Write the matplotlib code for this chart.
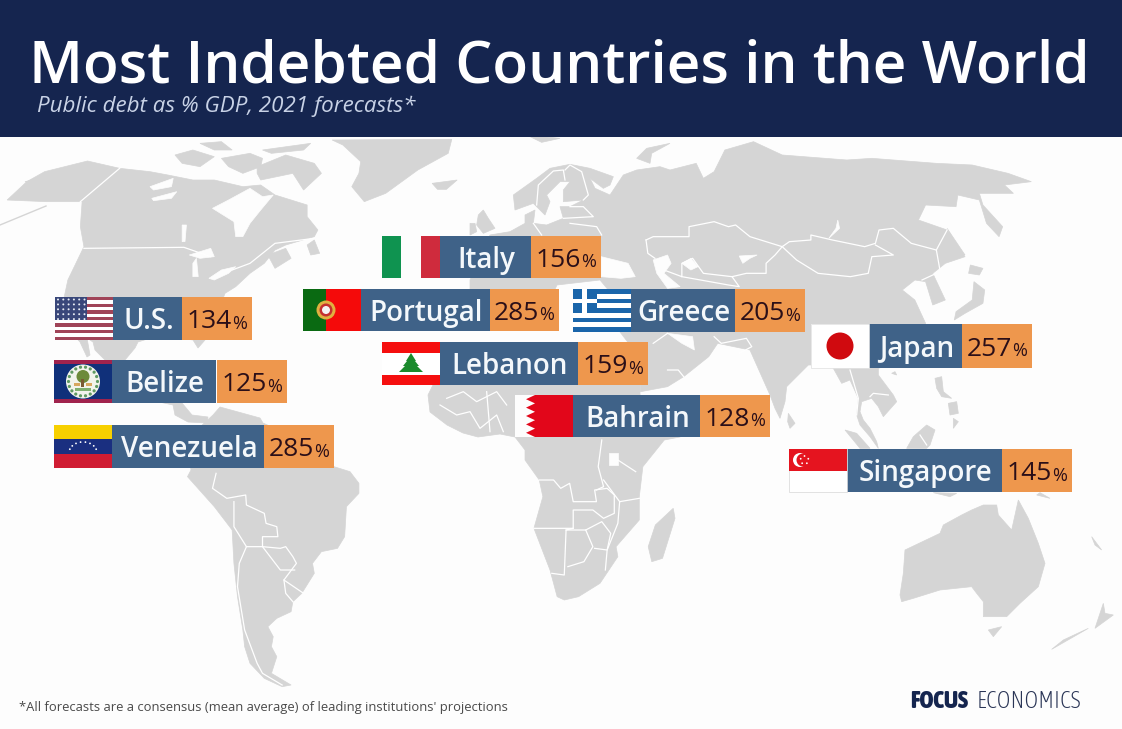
import numpy as np
import matplotlib
matplotlib.use('Agg')
import matplotlib.pyplot as plt
from matplotlib.patches import Rectangle, Circle, Polygon

countries = ['U.S.', 'Belize', 'Venezuela', 'Italy', 'Portugal', 'Greece', 'Lebanon', 'Bahrain', 'Japan', 'Singapore']
debt = [134, 125, 285, 156, 285, 205, 159, 128, 257, 145]

# flag left, flag right, name right, value left, value right, top, bottom (pixels)
boxes = [(55, 113, 182, 182, 252, 297, 340),
         (54, 112, 216, 217, 287, 360, 403),
         (54, 112, 264, 264, 334, 425, 468),
         (382, 440, 531, 531, 601, 236, 278),
         (303, 361, 490, 490, 559, 289, 331),
         (573, 631, 735, 735, 805, 289, 332),
         (382, 440, 578, 578, 648, 342, 385),
         (515, 573, 700, 700, 770, 395, 437),
         (811, 869, 962, 962, 1032, 324, 368),
         (789, 847, 1002, 1002, 1072, 449, 492)]

NAVY = '#15254f'
BLUE = '#3f6288'
ORANGE = '#ee974d'
LAND = '#d5d5d5'
BG = '#fdfdfd'


def z2(pts):
    return [(290 + x / 3, 225 + y / 3) for x, y in pts]


def z3(pts):
    return [(x / 2.8, 130 + y / 3) for x, y in pts]


def z4(pts):
    return [(560 + x / 2.79, 130 + y / 3) for x, y in pts]


def z5(pts):
    return [(150 + x / 2.8, 430 + y / 3) for x, y in pts]


def z6(pts):
    return [(780 + x / 3, 430 + y / 3) for x, y in pts]


def z7(pts):
    return [(470 + x / 3, 135 + y / 3) for x, y in pts]


def z8(pts):
    return [(760 + x / 3, 365 + y / 3) for x, y in pts]


land = [
    # north america
    [(0, 225), (46, 206)],
    z3([(20, 210), (75, 155), (125, 125), (245, 93), (335, 115), (420, 125), (470, 135), (540, 150), (600, 150),
        (680, 170), (730, 165), (770, 195), (860, 225), (860, 260), (890, 300), (880, 320), (800, 345), (770, 360),
        (740, 400), (700, 430), (660, 470), (630, 490)])
    + [(215, 320), (205, 340), (198, 348), (193, 340), (160, 335), (138, 342), (135, 348), (125, 360), (128, 385),
       (150, 395), (182, 403), (192, 415), (208, 417), (207, 423), (188, 422), (175, 415), (173, 405), (150, 400),
       (125, 380), (105, 360), (95, 350), (93, 342), (87, 338), (90, 355), (87, 357), (80, 342), (64, 325)]
    + z3([(180, 500), (190, 450), (235, 350), (225, 290), (230, 215), (130, 215)]),
    z3([(560, 40), (620, 35), (650, 60), (600, 60)]),
    z3([(490, 75), (540, 60), (600, 80), (560, 110), (510, 100)]),
    z3([(620, 85), (700, 70), (735, 85), (730, 110), (680, 130), (640, 110)]),
    z3([(735, 60), (870, 40), (850, 60), (760, 70)]),
    z3([(720, 110), (800, 75), (880, 100), (900, 130), (850, 180), (820, 130), (730, 150), (720, 130)]),
    z3([(70, 155), (110, 145), (100, 165)]),
    z3([(860, 345), (880, 330), (895, 370), (870, 375)]),
    z3([(750, 375), (800, 355), (815, 385), (770, 415)]),
    z3([(930, 30), (1265, 28), (1255, 70), (1170, 120), (1080, 190), (1020, 215), (985, 170), (1005, 130), (1010, 95),
        (960, 45)]),
    z3([(1210, 160), (1280, 150), (1250, 178), (1225, 178)]),
    # south america
    [(191, 470), (186, 440), (213, 415), (220, 407), (260, 418), (263, 423), (300, 440)]
    + z5([(515, 110), (560, 125), (585, 160), (585, 190), (550, 230), (545, 320), (525, 355), (480, 365), (455, 400),
          (460, 430), (425, 490), (400, 515), (395, 545), (355, 565), (330, 590), (345, 620), (340, 650), (355, 680),
          (340, 730), (395, 765), (370, 770), (320, 745), (280, 700), (265, 650), (260, 600), (245, 500), (235, 400),
          (230, 300), (180, 230), (105, 140)]),
    # eurasia
    [(470, 280)]
    + z7([(60, 300), (120, 290), (165, 265), (165, 240), (195, 225), (190, 265), (230, 270), (280, 250), (270, 215),
          (300, 215), (340, 195), (280, 200), (280, 165), (300, 140), (270, 140), (230, 180), (240, 200), (225, 240),
          (190, 205), (135, 225), (130, 180), (200, 130), (240, 100), (300, 88), (360, 100), (430, 125), (420, 150),
          (400, 160), (360, 130), (375, 160), (420, 180), (440, 150), (460, 120), (500, 105), (570, 95), (600, 105)])
    + z4([(380, 100), (400, 145), (430, 125), (460, 60), (540, 35), (620, 75), (800, 90), (870, 85), (1050, 100),
          (1150, 105), (1250, 130), (1315, 155), (1240, 165), (1265, 190), (1170, 190), (1180, 225), (1235, 290),
          (1225, 320), (1190, 280), (1170, 210), (1110, 195), (1105, 230), (1020, 225), (1000, 270), (1080, 300),
          (1130, 380), (1075, 400), (1040, 430), (1075, 510), (1040, 525), (1020, 455), (990, 450), (955, 480),
          (990, 510), (1020, 580), (990, 680)])
    + z8([(355, 10), (355, 30), (400, 90), (410, 110), (370, 155), (355, 125), (335, 100), (305, 110), (300, 140),
          (310, 165), (330, 190), (350, 230), (355, 250), (330, 215), (300, 180), (290, 150), (295, 100), (270, 45),
          (245, 55), (220, 10), (215, 0), (145, 0), (80, 65), (75, 110), (60, 160), (45, 130), (30, 90)])
    + z4([(530, 660), (440, 640), (415, 680), (345, 740), (300, 770), (225, 785)])
    + [(640, 375), (630, 345), (620, 332), (610, 292), (600, 280), (557, 285), (550, 300), (470, 300)],
    z7([(25, 240), (40, 225), (55, 250), (75, 280), (40, 295), (20, 270)]),
    z7([(0, 265), (15, 265), (20, 290), (0, 300)]),
    z7([(500, 70), (530, 40), (600, 25), (545, 55), (540, 85)]),
    z7([(170, 0), (270, 10), (215, 22)]),
    z4([(1080, 295), (1130, 375), (1115, 370)]),
    z4([(1145, 405), (1180, 415), (1170, 435), (1140, 430)]),
    z4([(1155, 455), (1185, 480), (1180, 520), (1130, 550), (1100, 570), (1105, 545), (1150, 510)]),
    z8([(85, 145), (105, 175), (90, 190), (83, 170)]),
    z8([(255, 195), (290, 205), (330, 250), (300, 250)]),
    z8([(440, 250), (460, 215), (500, 180), (525, 195), (510, 240), (500, 250)]),
    z8([(525, 40), (545, 35), (550, 80), (575, 100), (545, 95), (530, 70)]),
    z8([(565, 115), (590, 110), (595, 145), (570, 150)]),
    z8([(395, 25), (405, 20), (410, 30)]),
    z8([(580, 160), (595, 170), (580, 190)]),
    z6([(460, 188), (530, 190), (510, 200)]),
    z6([(780, 188), (810, 205), (770, 195)]),
    # africa
    [(428, 395), (433, 385), (445, 365), (500, 350), (590, 350), (640, 380), (640, 395), (680, 410), (705, 405),
     (680, 437)]
    + z5([(1440, 30), (1380, 110), (1370, 200), (1370, 270), (1305, 350), (1310, 380), (1285, 420), (1260, 460),
          (1200, 500), (1160, 510), (1140, 500), (1120, 420), (1075, 295), (1100, 200), (1090, 150), (1050, 90),
          (1050, 60)])
    + [(515, 437), (500, 434), (478, 437), (463, 433), (447, 425), (430, 412)],
    z5([(1465, 235), (1470, 265), (1435, 385), (1405, 395), (1395, 350), (1415, 285)]),
    # australia and the islands
    z6([(375, 360), (480, 310), (490, 285), (545, 255), (575, 240), (610, 225), (650, 225), (655, 255), (695, 300),
        (715, 210), (745, 265), (775, 340), (795, 400), (775, 470), (720, 520), (680, 560), (610, 560), (610, 515),
        (590, 490), (575, 470), (480, 480), (400, 505), (365, 515), (360, 495), (370, 430)]),
    z6([(625, 600), (665, 590), (640, 620)]),
    z6([(970, 520), (975, 550), (1000, 555), (945, 595)]),
    z6([(925, 595), (815, 658), (850, 630)]),
    z6([(935, 320), (965, 360), (945, 345)]),
]

# seas and lakes
water = [
    z3([(595, 235), (640, 210), (700, 175), (735, 200), (765, 195), (730, 240), (700, 280), (680, 320), (660, 320),
        (655, 275)]),
    z3([(420, 170), (485, 145), (480, 170), (430, 180)]),
    z3([(425, 205), (495, 185), (480, 205), (430, 212)]),
    z3([(510, 285), (522, 285), (518, 335), (510, 335)]),
    z3([(530, 375), (590, 355), (600, 380), (560, 385)]),
    z3([(540, 400), (550, 385), (555, 440), (540, 440)]),
    z3([(585, 445), (620, 420), (660, 410), (640, 430), (600, 450)]),
    z4([(115, 380), (190, 400), (210, 440), (170, 445), (115, 440)]),
    z4([(260, 390), (300, 375), (310, 400), (290, 430), (335, 470), (300, 475), (270, 430)]),
    z4([(500, 378), (550, 375), (530, 385), (510, 400)]),
    z4([(775, 270), (780, 295), (750, 325), (770, 295)]),
    z4([(340, 400), (365, 385), (385, 410), (365, 420)]),
    z4([(300, 610), (370, 620), (375, 660), (340, 640)]),
    z4([(140, 610), (170, 620), (215, 700), (200, 710)]),
    z5([(1285, 70), (1310, 70), (1310, 105), (1285, 105)]),
]

# white borders between countries
borders = [
    z3([(335, 115), (225, 215)]),
    z3([(235, 355), (515, 352), (590, 380)]),
    z3([(880, 325), (770, 340), (700, 400), (650, 420)]),
    z5([(185, 130), (175, 175), (215, 205), (268, 195), (270, 225), (320, 250), (325, 280), (355, 290), (358, 320),
        (315, 320), (315, 350), (365, 355), (380, 350), (400, 380), (410, 400), (375, 450), (430, 490)]),
    z5([(235, 215), (235, 290), (270, 350), (250, 400), (245, 470), (265, 600), (300, 700), (315, 730), (370, 765)]),
    z5([(270, 350), (315, 350), (365, 420), (405, 420)]),
    z5([(375, 450), (380, 490), (400, 515)]),
    z7([(200, 210), (205, 150), (250, 108), (280, 105), (285, 135)]),
    z7([(285, 105), (300, 90), (335, 110), (355, 180), (340, 195)]),
    z7([(300, 215), (340, 215), (370, 245), (280, 250)]),
    z7([(300, 265), (380, 275), (395, 300)]),
    z7([(190, 265), (215, 300)]),
    z4([(240, 330), (260, 320), (360, 320), (360, 290), (430, 275), (470, 290), (490, 285), (530, 320), (620, 350),
        (640, 335), (700, 330), (700, 315), (760, 330), (850, 350), (880, 340), (890, 300), (930, 295), (980, 340),
        (1050, 360), (1060, 420)]),
    z4([(1050, 360), (1080, 300)]),
    z4([(620, 350), (660, 390), (720, 430), (810, 440), (860, 430), (870, 380), (930, 375), (880, 345)]),
    z4([(620, 350), (600, 375), (575, 400), (575, 430), (520, 430), (480, 440), (400, 430), (370, 385), (340, 400),
        (340, 440), (290, 420)]),
    z4([(240, 330), (245, 370), (265, 385)]),
    z4([(480, 440), (500, 470), (470, 465), (340, 440)]),
    z4([(1010, 450), (1050, 430)]),
    z4([(430, 620), (450, 640), (520, 625), (535, 650), (500, 670)]),
    z4([(300, 610), (260, 640)]),
    z4([(345, 740), (330, 720), (300, 720)]),
    z8([(270, 15), (295, 100), (290, 150)]),
    z8([(330, 95), (340, 85), (385, 90)]),
    z8([(480, 210), (500, 240)]),
    z5([(1090, 150), (1130, 150), (1150, 175), (1175, 160), (1185, 215), (1250, 215), (1245, 180), (1280, 175),
        (1300, 195), (1300, 250), (1270, 265), (1240, 240), (1185, 240), (1185, 295), (1075, 295)]),
    z5([(1185, 295), (1165, 300), (1160, 435), (1125, 430)]),
    z5([(1165, 300), (1220, 300), (1240, 350), (1215, 395), (1170, 410)]),
    z5([(1220, 300), (1265, 275), (1290, 310), (1280, 360), (1245, 355)]),
    z5([(1270, 150), (1315, 215), (1370, 205)]),
    z5([(1310, 90), (1360, 125)]),
    z5([(1265, 30), (1255, 110), (1270, 170), (1250, 180)]),
    z5([(1315, 215), (1310, 280), (1280, 360), (1275, 420)]),
    z2([(470, 520), (520, 500), (560, 530), (620, 500), (650, 540)]),
    z2([(450, 540), (500, 570), (540, 560), (570, 610), (620, 570), (640, 620)]),
    z2([(590, 500), (600, 620)]),
]

fig = plt.figure(figsize=(11.22, 7.29), dpi=100, facecolor=BG)
ax = fig.add_axes([0, 0, 1, 1])
ax.set_xlim(0, 1122)
ax.set_ylim(729, 0)
ax.axis('off')

for pts in land:
    if len(pts) == 2:
        ax.plot(*zip(*pts), color=LAND, lw=1, zorder=1)
    else:
        ax.add_patch(Polygon(pts, closed=True, fc=LAND, ec=LAND, lw=0.5, zorder=1))
for pts in water:
    ax.add_patch(Polygon(pts, closed=True, fc=BG, ec=BG, lw=0.5, zorder=2))
for pts in borders:
    ax.plot(*zip(*pts), color='white', lw=0.9, zorder=2)


def rect(x0, y0, x1, y1, color, z=5):
    ax.add_patch(Rectangle((x0, y0), x1 - x0, y1 - y0, fc=color, ec='none', zorder=z))


def disc(x, y, r, color, z=6):
    ax.add_patch(Circle((x, y), r, fc=color, ec='none', zorder=z))


def flag_us(x0, x1, y0, y1):
    n = 13
    h = (y1 - y0) / n
    for i in range(n):
        rect(x0, y0 + i * h, x1, y0 + (i + 1) * h, '#a04458' if i % 2 == 0 else 'white')
    rect(x0, y0, x0 + 32, y0 + 7 * h, '#39477a')
    for j in range(5):
        for i in range(6):
            disc(x0 + 3 + i * 5.3, y0 + 2.5 + j * 4.9, 1.0, '#e8ecf4')


def flag_belize(x0, x1, y0, y1):
    rect(x0, y0, x1, y1, '#a0234d')
    rect(x0, y0 + 4, x1, y1 - 4, '#10307a')
    cx, cy = (x0 + x1) / 2, (y0 + y1) / 2
    disc(cx, cy, 17, '#f2f4ec')
    for a in np.arange(0, 360, 20):
        disc(cx + 14.5 * np.cos(np.radians(a)), cy + 14.5 * np.sin(np.radians(a)), 1.6, '#5f9a62', 7)
    disc(cx, cy - 5, 6.5, '#6d8a3a', 8)
    rect(cx - 1.5, cy - 3, cx + 1.5, cy + 5, '#7a5a32', 8)
    rect(cx - 9, cy + 1, cx - 3, cy + 4, '#d8a860', 8)
    rect(cx + 3, cy + 1, cx + 9, cy + 4, '#d8a860', 8)
    rect(cx - 8, cy + 6, cx + 8, cy + 9, '#7fb070', 8)


def flag_venezuela(x0, x1, y0, y1):
    h = (y1 - y0) / 3
    rect(x0, y0, x1, y0 + h, '#f7d000')
    rect(x0, y0 + h, x1, y0 + 2 * h, '#1a2f80')
    rect(x0, y0 + 2 * h, x1, y1, '#d01c33')
    cx, cy = (x0 + x1) / 2, y0 + 1.95 * h
    for a in np.linspace(200, 340, 8):
        disc(cx + 14 * np.cos(np.radians(a)), cy + 11 * np.sin(np.radians(a)), 0.9, 'white')


def flag_italy(x0, x1, y0, y1):
    w = (x1 - x0) / 3
    rect(x0, y0, x0 + w, y1, '#0f9350')
    rect(x0 + w, y0, x0 + 2 * w, y1, BG)
    rect(x0 + 2 * w, y0, x1, y1, '#cf2b3d')


def flag_portugal(x0, x1, y0, y1):
    rect(x0, y0, x0 + 23, y1, '#0a6a12')
    rect(x0 + 23, y0, x1, y1, '#f50a0a')
    cx, cy = x0 + 23, (y0 + y1) / 2
    disc(cx, cy, 9.5, '#e0b040')
    disc(cx, cy, 6.5, '#c43030', 7)
    disc(cx, cy, 4, '#f4f4f4', 8)


def flag_greece(x0, x1, y0, y1):
    n = 9
    h = (y1 - y0) / n
    for i in range(n):
        rect(x0, y0 + i * h, x1, y0 + (i + 1) * h, '#1a65aa' if i % 2 == 0 else 'white')
    rect(x0, y0, x0 + 24, y0 + 5 * h, '#1a65aa')
    rect(x0 + 9.5, y0, x0 + 14.5, y0 + 5 * h, 'white')
    rect(x0, y0 + 2 * h, x0 + 24, y0 + 3 * h, 'white')


def flag_lebanon(x0, x1, y0, y1):
    rect(x0, y0, x1, y1, 'white')
    rect(x0, y0, x1, y0 + 10.5, '#f50f0f')
    rect(x0, y1 - 10.5, x1, y1, '#f50f0f')
    cx = (x0 + x1) / 2
    for top, half, base in [(y0 + 11, 5, y0 + 19), (y0 + 14, 8, y0 + 24), (y0 + 18, 12, y0 + 30)]:
        ax.add_patch(Polygon([(cx, top), (cx - half, base), (cx + half, base)], fc='#1a8a2c', ec='none', zorder=6))


def flag_bahrain(x0, x1, y0, y1):
    rect(x0, y0, x1, y1, BG)
    n = 5
    h = (y1 - y0) / n
    pts = [(x1, y0)]
    for i in range(n):
        pts += [(x0 + 20, y0 + i * h), (x0 + 11, y0 + (i + 0.5) * h)]
    pts += [(x0 + 20, y1), (x1, y1)]
    ax.add_patch(Polygon(pts, fc='#e2061a', ec='none', zorder=6))


def flag_japan(x0, x1, y0, y1):
    rect(x0, y0, x1, y1, 'white')
    ax.add_patch(Rectangle((x0, y0), x1 - x0, y1 - y0, fc='none', ec='#e4e4e4', lw=0.6, zorder=6))
    disc((x0 + x1) / 2, (y0 + y1) / 2, 13.5, '#d00a0f')


def flag_singapore(x0, x1, y0, y1):
    rect(x0, y0, x1, y1, 'white')
    ax.add_patch(Rectangle((x0, y0), x1 - x0, y1 - y0, fc='none', ec='#dddddd', lw=0.6, zorder=6))
    rect(x0, y0, x1, (y0 + y1) / 2, '#e5141f', 7)
    disc(x0 + 11, y0 + 11, 7, 'white', 8)
    disc(x0 + 14, y0 + 11, 6.5, '#e5141f', 9)
    for a in np.arange(0, 360, 72):
        disc(x0 + 15.5 + 4 * np.cos(np.radians(a - 90)), y0 + 11 + 4 * np.sin(np.radians(a - 90)), 0.9, 'white', 10)


flag_funcs = [flag_us, flag_belize, flag_venezuela, flag_italy, flag_portugal,
              flag_greece, flag_lebanon, flag_bahrain, flag_japan, flag_singapore]

for name, value, box, flag in zip(countries, debt, boxes, flag_funcs):
    fx0, fx1, nx1, vx0, vx1, y0, y1 = box
    rect(fx1, y0, nx1, y1, BLUE)
    rect(vx0, y0, vx1, y1, ORANGE)
    flag(fx0, fx1, y0, y1)
    ym = (y0 + y1) / 2
    ax.text((fx1 + nx1) / 2 + 1, ym + 3, name, color='#f4f8fb', fontsize=20, fontfamily='Open Sans', fontweight=600,
            ha='center', va='center', zorder=12)
    ax.text(vx1 - 20, ym + 3, str(value), color='#2b0f18', fontsize=19, fontfamily='Open Sans',
            ha='right', va='center', zorder=12)
    ax.text(vx1 - 5, ym + 5, '%', color='#2b0f18', fontsize=13, fontfamily='Open Sans',
            ha='right', va='center', zorder=12)

# header band
ax.add_patch(Rectangle((0, 0), 1122, 137, fc=NAVY, ec='none', zorder=15))
ax.text(559.5, 82, 'Most Indebted Countries in the World', color='white', fontsize=42.1, fontfamily='Open Sans',
        fontweight=600, ha='center', va='baseline', zorder=16)
ax.text(37, 106, 'Public debt as % GDP, 2021 forecasts*', color='#c8d2e6', fontsize=16.1, fontfamily='Open Sans',
        fontstyle='italic', ha='left', va='center', zorder=16)

# footer
ax.text(19, 708, "*All forecasts are a consensus (mean average) of leading institutions' projections", color='#4a4a4a',
        fontsize=9.4, fontfamily='Open Sans', ha='left', va='center', zorder=16)
narrow = ['Asap Condensed', 'Archivo Narrow', 'Liberation Sans']
ax.text(910, 708, 'FOCUS', color=NAVY, fontsize=17, fontfamily=narrow, fontweight=900, ha='left', va='baseline', zorder=16)
ax.text(1081, 708, 'ECONOMICS', color='#2a3556', fontsize=17, fontfamily=narrow, fontweight=200, ha='right', va='baseline', zorder=16)

fig.savefig('out.png', dpi=100, facecolor=BG)
